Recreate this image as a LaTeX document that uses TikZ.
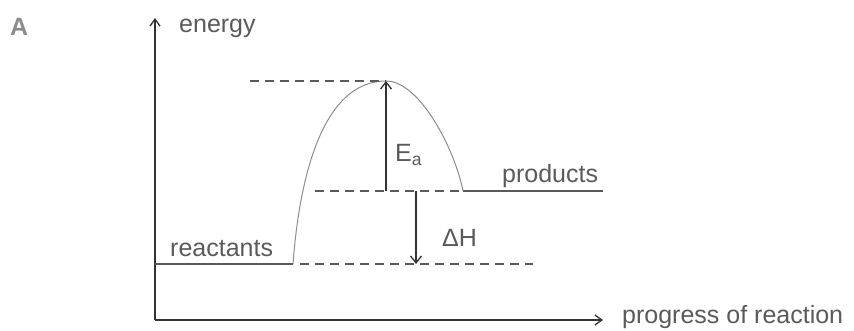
\documentclass[tikz,border=0pt]{standalone}
\usepackage{fontspec}
\setmainfont{Liberation Sans}
\usetikzlibrary{arrows.meta}
\definecolor{inkdark}{HTML}{333333}
\definecolor{inkmid}{HTML}{5A5A5A}
\definecolor{inklight}{HTML}{8C8C8C}

\begin{document}
\begin{tikzpicture}[x=1pt, y=-1pt,
  axis/.style={draw=inkdark, line width=1.9pt, -{Straight Barb[length=7pt,width=10pt,line width=1.3pt]}},
  level/.style={draw=inkmid, line width=1.4pt},
  guide/.style={draw=inkmid, line width=1.4pt, dash pattern=on 9pt off 6pt},
  gap/.style={draw=inkdark, line width=1.5pt, -{Straight Barb[length=7pt,width=11pt,line width=1.3pt]}},
  lbl/.style={text=inkmid, font=\fontsize{25}{30}\selectfont, inner sep=0pt, anchor=base west}]
\useasboundingbox (0,0) rectangle (854,331);

% axes
\coordinate (O) at (155,320);
\coordinate (ytip) at (155,18);
\coordinate (xtip) at (603,320);
\draw[axis] (O) -- (ytip);
\draw[axis] (O) -- (xtip);

% energy levels
\coordinate (r0) at (155,264);
\coordinate (r1) at (293,264);
\coordinate (peak) at (386,81);
\coordinate (p0) at (463,191);
\coordinate (p1) at (603,191);
\draw[level] (r0) -- (r1);
\draw[level] (p0) -- (p1);
\draw[draw=inklight, line width=1pt] (r1) .. controls (300,170) and (325,81) .. (peak)
  .. controls (420,81) and (455,150) .. (p0);

% dashed guides
\coordinate (t0) at (250,81);
\coordinate (m0) at (315,191);
\coordinate (b0) at (300,264);
\coordinate (b1) at (533,264);
\draw[guide] (t0) -- (peak);
\draw[guide] (m0) -- (p0);
\draw[guide] (b0) -- (b1);

% E_a and Delta H
\coordinate (ea0) at (386,191);
\coordinate (dh0) at (416,191);
\coordinate (dh1) at (416,264);
\draw[gap] (ea0) -- (peak);
\draw[gap] (dh0) -- (dh1);

% labels
\node[lbl, font=\fontsize{25}{30}\selectfont\bfseries, text=inklight] (partA) at (10,36) {A};
\node[lbl] (energy) at (179,33) {energy};
\node[lbl] (progress) at (622,323) {progress of reaction};
\node[lbl] (reactants) at (170,257) {reactants};
\node[lbl] (products) at (502,183) {products};
\node[lbl] (Ea) at (395,162) {E\textsubscript{a}};
\node[lbl] (dH) at (442,247) {ΔH};
\end{tikzpicture}
\end{document}
